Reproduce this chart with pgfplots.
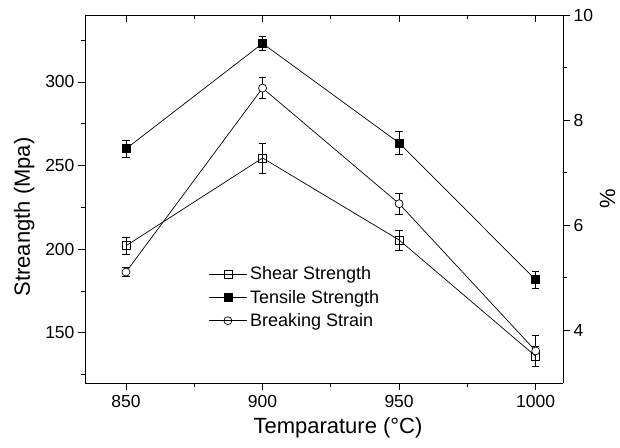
\documentclass[border=0pt]{standalone}
\usepackage{fontspec}
\setmainfont{Liberation Sans}
\usepackage{pgfplots}
\pgfplotsset{compat=1.18}
\begin{document}
\begin{tikzpicture}
\pgfplotsset{
  every axis/.append style={
    scale only axis, width=478pt, height=368pt,
    xmin=835, xmax=1010,
    /pgf/number format/assume math mode=true,
    /pgf/number format/1000 sep={},
    tick style={black, line width=0.8pt},
    axis line style={line width=0.9pt},
    tick label style={font=\fontsize{17.5}{20}\selectfont},
    label style={font=\fontsize{22}{25}\selectfont},
    major tick length=7pt, minor tick length=4pt,
    xtick={850,900,950,1000}, minor xtick={875,925,975},
  },
  errs/.style={error bars/.cd, y dir=both, y explicit,
    error bar style={line width=0.7pt, solid},
    error mark options={rotate=90, mark size=3.8pt, line width=0.7pt}},
  ser/.style={black, line width=0.7pt, mark size=4pt},
}
% top axis with inward ticks
\begin{axis}[axis x line*=top, hide y axis, tick align=inside,
  xticklabels={}, ymin=120, ymax=340]
\end{axis}
% left axis: strengths
\begin{axis}[axis x line*=bottom, axis y line*=left, tick align=outside,
  ymin=120, ymax=340, ytick={150,200,250,300}, minor ytick={125,175,225,275,325},
  xlabel={Temparature (°C)}, ylabel={Streangth (Mpa)},
  xticklabel style={yshift=-2pt},
  xlabel style={yshift=-3pt, xshift=14pt}, ylabel style={yshift=4pt, xshift=-18pt},
  legend style={draw=none, fill=none, at={(rel axis cs:0.258,0.322)}, anchor=north west,
    font=\fontsize{18}{20}\selectfont, row sep=4.8pt, inner sep=0pt,
    nodes={inner ysep=2pt, inner xsep=2.8pt, anchor=west}},
  legend image code/.code={\draw[mark repeat=2,mark phase=2,#1] plot coordinates {(0pt,0pt)(19pt,0pt)(38pt,0pt)};},
  legend cell align=left]
\addplot[ser, mark=square, mark options={fill=white}, errs] coordinates {
  (850,202) +- (0,5)
  (900,254.5) +- (0,9)
  (950,205.5) +- (0,6)
  (1000,136) +- (0,6)
};
\addlegendentry{Shear Strength}
\addplot[ser, mark=square*, mark options={fill=black}, errs] coordinates {
  (850,260) +- (0,5)
  (900,323) +- (0,4)
  (950,263.5) +- (0,7)
  (1000,181.7) +- (0,5)
};
\addlegendentry{Tensile Strength}
\addlegendimage{ser, mark=o, mark options={fill=white}}
\addlegendentry{Breaking Strain}
\end{axis}
% right axis: breaking strain
\begin{axis}[axis x line=none, axis y line*=right, tick align=outside,
  ymin=3, ymax=10, ytick={4,6,8,10}, minor ytick={5,7,9}, ylabel={\%}]
\addplot[ser, mark=*, mark options={fill=white}, errs] coordinates {
  (850,5.11) +- (0,0.09)
  (900,8.61) +- (0,0.2)
  (950,6.41) +- (0,0.2)
  (1000,3.61) +- (0,0.29)
};
\end{axis}
\path ([xshift=-85pt,yshift=-65pt]current axis.south west) rectangle ([xshift=57pt,yshift=15pt]current axis.north east);
\end{tikzpicture}
\end{document}
